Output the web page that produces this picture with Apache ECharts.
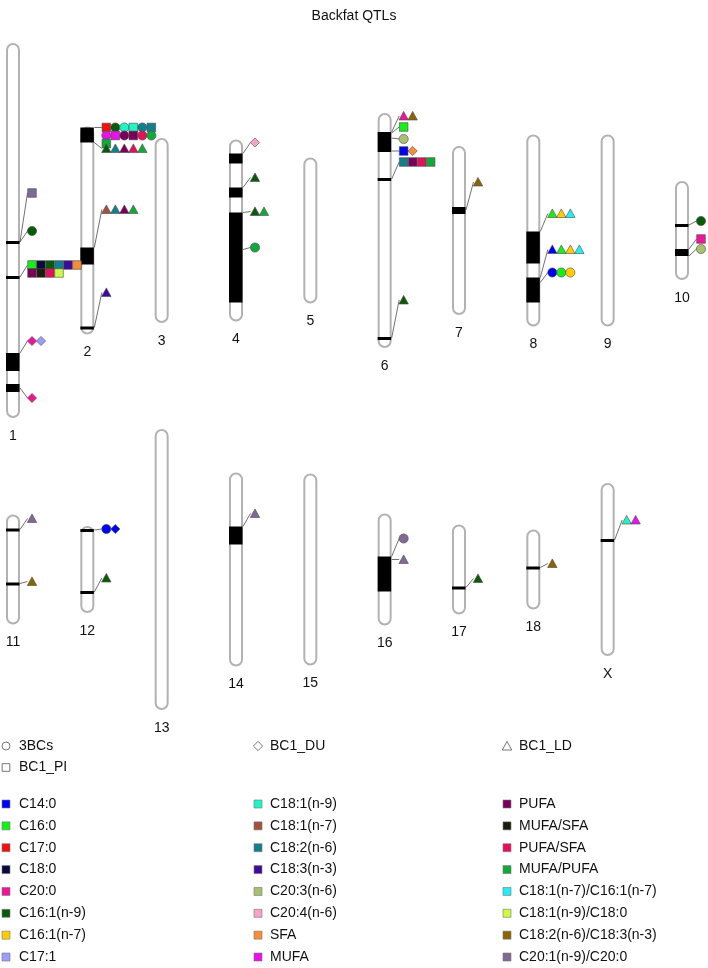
<!DOCTYPE html>
<html><head><meta charset="utf-8">
<script src="https://cdn.jsdelivr.net/npm/echarts@6/dist/echarts.min.js"></script>
<style>html,body{margin:0;padding:0;background:#fff}#chart{width:708px;height:968px}</style>
</head><body><div id="chart"></div>
<script>
// ---------- data ----------
const chromosomes = ['1','2','3','4','5','6','7','8','9','10','11','12','13','14','15','16','17','18','X'];
const chromLengths = [375, 208, 185, 182, 146, 235, 169, 192, 192, 99, 110, 87, 281, 194, 192, 112, 90, 80, 173];

const populations = ['3BCs', 'BC1_DU', 'BC1_LD', 'BC1_PI'];
const popSymbols = ['circle', 'diamond', 'triangle', 'square'];

const traits = ['C14:0','C16:0','C17:0','C18:0','C20:0','C16:1(n-9)','C16:1(n-7)','C17:1',
  'C18:1(n-9)','C18:1(n-7)','C18:2(n-6)','C18:3(n-3)','C20:3(n-6)','C20:4(n-6)','SFA','MUFA',
  'PUFA','MUFA/SFA','PUFA/SFA','MUFA/PUFA','C18:1(n-7)/C16:1(n-7)','C18:1(n-9)/C18:0','C18:2(n-6)/C18:3(n-3)','C20:1(n-9)/C20:0'];
const traitColors = ['#0000f5','#16f016','#f01010','#0a0a3c','#f0149a','#0b5a0b','#ffcc00','#9c9cff',
  '#20f5c4','#a0523d','#137e8e','#3f0a9a','#a8c070','#f7a2cb','#f98c37','#e812e8',
  '#780058','#1c1a0c','#e2115a','#12a83a','#22eef5','#ccfa44','#8a6400','#7f6a95'];

// QTL bands: [chromosome, start, end] (units from chromosome top)
const bands = [
  ['1',198,201],['1',233,236],['1',310,328],['1',341,349],
  ['2',1,16],['2',121,138],['2',200,203],
  ['4',14,24],['4',48,58],['4',73,163],
  ['6',19,39],['6',65,68],['6',224,227],
  ['7',61,68],
  ['8',97,129],['8',143,168],
  ['10',43,46],['10',68,75],
  ['11',14,17],['11',68,71],
  ['12',3,6],['12',65,68],
  ['14',54,72],
  ['16',43,78],
  ['17',62,65],
  ['18',37,40],
  ['X',56,59]
];

// QTL label groups: chromosome, anchor on chromosome, label position, [population, trait] items
const qtlChrom  = ['1','1','1','1','1','2','2','2','2','4','4','4','4','6','6','6','6','6','6','7','8','8','8','10','10','10','11','11','12','12','14','16','16','17','18','X'];
const qtlAnchor = [199,199,234,310,345, 1,16,121,201, 14,48,73,110, 19,20,25,38,66,225, 64, 97,143,148, 44,68,75, 15,69, 4,66, 54, 43,46, 63, 38, 57];
const qtlLabelAt= [150,188,222,298,355, 1,22,83,166, 3,38,72,108, 3,14,26,38,49,187, 36, 79,115,138, 40,58,68, 4,67, 3,52, 41, 25,46, 54, 34, 37];
const qtlItems = [
  [['BC1_PI','C20:1(n-9)/C20:0']],
  [['3BCs','C16:1(n-9)']],
  [['BC1_PI','C16:0'],['BC1_PI','C18:0'],['BC1_PI','C16:1(n-9)'],['BC1_PI','C18:2(n-6)'],['BC1_PI','C18:3(n-3)'],['BC1_PI','SFA'],
   ['BC1_PI','PUFA'],['BC1_PI','MUFA/SFA'],['BC1_PI','PUFA/SFA'],['BC1_PI','C18:1(n-9)/C18:0']],
  [['BC1_DU','C20:0'],['BC1_DU','C17:1']],
  [['BC1_DU','C20:0']],
  [['BC1_PI','C17:0'],['3BCs','C16:1(n-9)'],['3BCs','C18:1(n-9)'],['BC1_PI','C18:1(n-9)'],['3BCs','C18:2(n-6)'],['BC1_PI','C18:2(n-6)'],
   ['3BCs','MUFA'],['BC1_PI','MUFA'],['3BCs','PUFA'],['BC1_PI','PUFA'],['3BCs','PUFA/SFA'],['3BCs','MUFA/PUFA'],
   ['BC1_PI','MUFA/PUFA']],
  [['BC1_LD','C16:1(n-9)'],['BC1_LD','C18:2(n-6)'],['BC1_LD','PUFA'],['BC1_LD','PUFA/SFA'],['BC1_LD','MUFA/PUFA']],
  [['BC1_LD','C18:1(n-7)'],['BC1_LD','C18:2(n-6)'],['BC1_LD','PUFA'],['BC1_LD','MUFA/PUFA']],
  [['BC1_LD','C18:3(n-3)']],
  [['BC1_DU','C20:4(n-6)']],
  [['BC1_LD','C16:1(n-9)']],
  [['BC1_LD','C16:1(n-9)'],['BC1_LD','MUFA/PUFA']],
  [['3BCs','MUFA/PUFA']],
  [['BC1_LD','C20:0'],['BC1_LD','C18:2(n-6)/C18:3(n-3)']],
  [['BC1_PI','C16:0']],
  [['3BCs','C20:3(n-6)']],
  [['BC1_PI','C14:0'],['BC1_DU','SFA']],
  [['BC1_PI','C18:2(n-6)'],['BC1_PI','PUFA'],['BC1_PI','PUFA/SFA'],['BC1_PI','MUFA/PUFA']],
  [['BC1_LD','C16:1(n-9)']],
  [['BC1_LD','C18:2(n-6)/C18:3(n-3)']],
  [['BC1_LD','C16:0'],['BC1_LD','C16:1(n-7)'],['BC1_LD','C18:1(n-7)/C16:1(n-7)']],
  [['BC1_LD','C14:0'],['BC1_LD','C16:0'],['BC1_LD','C16:1(n-7)'],['BC1_LD','C18:1(n-7)/C16:1(n-7)']],
  [['3BCs','C14:0'],['3BCs','C16:0'],['3BCs','C16:1(n-7)']],
  [['3BCs','C16:1(n-9)']],
  [['BC1_PI','C20:0']],
  [['3BCs','C20:3(n-6)']],
  [['BC1_LD','C20:1(n-9)/C20:0']],
  [['BC1_LD','C18:2(n-6)/C18:3(n-3)']],
  [['3BCs','C14:0'],['BC1_DU','C14:0']],
  [['BC1_LD','C16:1(n-9)']],
  [['BC1_LD','C20:1(n-9)/C20:0']],
  [['3BCs','C20:1(n-9)/C20:0']],
  [['BC1_LD','C20:1(n-9)/C20:0']],
  [['BC1_LD','C16:1(n-9)']],
  [['BC1_LD','C18:2(n-6)/C18:3(n-3)']],
  [['BC1_LD','C18:1(n-9)'],['BC1_LD','MUFA']]
];

// ---------- rendering ----------
const FONT = "'Liberation Sans', Arial, Helvetica, sans-serif";
const PER_ROW = 6, STEP_X = 9, STEP_Y = 8;
const chromIndex = c => chromosomes.indexOf(c);
const rowOf = i => (i < 10 ? 0 : 1);
const colOf = i => (i < 10 ? i : i - 10);

function symbolShape(sym, x, y, fill) {
  const st = {fill: fill, stroke: '#4a4a4a', lineWidth: 0.6};
  if (sym === 'circle') return {type: 'circle', shape: {cx: x, cy: y, r: 4.6}, style: st};
  if (sym === 'square') return {type: 'rect', shape: {x: x - 4.3, y: y - 4.3, width: 8.6, height: 8.6}, style: st};
  if (sym === 'diamond') return {type: 'polygon', shape: {points: [[x, y - 4.6], [x + 4.6, y], [x, y + 4.6], [x - 4.6, y]]}, style: st};
  return {type: 'polygon', shape: {points: [[x - 4.7, y + 4], [x + 4.7, y + 4], [x, y - 4.6]]}, style: st};
}

function chromSeries(row) {
  const data = [];
  chromosomes.forEach((c, i) => { if (rowOf(i) === row) data.push([colOf(i), chromLengths[i], i]); });
  return {
    type: 'custom', xAxisIndex: row, yAxisIndex: row, data, silent: true, z: 1,
    renderItem(params, api) {
      const col = api.value(0), len = api.value(1), i = api.value(2);
      const t = api.coord([col, -len / 2]), b = api.coord([col, len / 2]);
      return {type: 'group', children: [
        {type: 'rect', shape: {x: t[0] - 6, y: t[1] + 1, width: 12, height: b[1] - t[1] - 2, r: 6},
         style: {fill: '#fff', stroke: '#b2b2b2', lineWidth: 2}},
        {type: 'text', x: t[0], y: b[1] + 18,
         style: {text: chromosomes[i], align: 'center', verticalAlign: 'middle', textAlign: 'center', textVerticalAlign: 'middle', font: '14px ' + FONT, fill: '#111'}}
      ]};
    }
  };
}

function bandSeries(row) {
  const data = [];
  bands.forEach(bd => {
    const i = chromIndex(bd[0]);
    if (rowOf(i) === row) data.push([colOf(i), bd[1] - chromLengths[i] / 2, bd[2] - chromLengths[i] / 2]);
  });
  return {
    type: 'custom', xAxisIndex: row, yAxisIndex: row, data, silent: true, z: 2,
    renderItem(params, api) {
      const a = api.coord([api.value(0), api.value(1)]), b = api.coord([api.value(0), api.value(2)]);
      return {type: 'rect', shape: {x: a[0] - 7, y: a[1], width: 13.5, height: Math.max(b[1] - a[1], 2.5)}, style: {fill: '#000'}};
    }
  };
}

function qtlSeries(row) {
  const data = [];
  qtlChrom.forEach((c, g) => {
    const i = chromIndex(c);
    if (rowOf(i) === row) data.push([colOf(i), qtlAnchor[g] - chromLengths[i] / 2, qtlLabelAt[g] - chromLengths[i] / 2, g]);
  });
  return {
    type: 'custom', xAxisIndex: row, yAxisIndex: row, data, silent: true, z: 3,
    renderItem(params, api) {
      const col = api.value(0), g = api.value(3);
      const a = api.coord([col, api.value(1)]), l = api.coord([col, api.value(2)]);
      const x0 = a[0] + 19;
      const children = [{type: 'line', shape: {x1: a[0] + 7, y1: a[1], x2: x0 - 4.5, y2: l[1]},
                         style: {stroke: '#333', lineWidth: 0.7}}];
      qtlItems[g].forEach((it, k) => {
        const sym = popSymbols[populations.indexOf(it[0])];
        const col2 = traitColors[traits.indexOf(it[1])];
        children.push(symbolShape(sym, x0 + STEP_X * (k % PER_ROW), l[1] + STEP_Y * Math.floor(k / PER_ROW), col2));
      });
      return {type: 'group', children};
    }
  };
}

// legend graphics
const legendGraphics = [];
const colX = [6, 258, 507], textX = [19, 270, 519];
populations.forEach((p, k) => {
  const c = k % 3, r = Math.floor(k / 3);
  const y = 746 + r * 21.5;
  const sh = symbolShape(popSymbols[k], colX[c], y, 'none');
  sh.style = {fill: 'none', stroke: '#555', lineWidth: 0.8};
  if (popSymbols[k] === 'square') sh.shape = {x: colX[c] - 3.8, y: y - 3.8, width: 7.6, height: 7.6};
  if (popSymbols[k] === 'circle') sh.shape.r = 4;
  legendGraphics.push(sh);
  legendGraphics.push({type: 'text', x: textX[c], y: y,
    style: {text: p, font: '14px ' + FONT, fill: '#111', verticalAlign: 'middle', textVerticalAlign: 'middle'}});
});
traits.forEach((t, k) => {
  const c = Math.floor(k / 8), r = k % 8;
  const y = 804 + r * 21.86;
  legendGraphics.push({type: 'rect', shape: {x: colX[c] - 4, y: y - 4, width: 8, height: 8},
    style: {fill: traitColors[k], stroke: '#777', lineWidth: 0.6}});
  legendGraphics.push({type: 'text', x: textX[c], y: y,
    style: {text: t, font: '14px ' + FONT, fill: '#111', verticalAlign: 'middle', textVerticalAlign: 'middle'}});
});

const chart = echarts.init(document.getElementById('chart'), null, {renderer: 'canvas'});
chart.setOption({
  animation: false,
  backgroundColor: '#fff',
  title: {text: 'Backfat QTLs', left: 'center', top: 4,
          textStyle: {fontSize: 14, fontWeight: 'normal', color: '#111', fontFamily: FONT}},
  grid: [
    {left: 0, right: 0, top: 15.5, height: 430},
    {left: 0, right: 0, top: 419.5, height: 300}
  ],
  xAxis: [
    {type: 'value', gridIndex: 0, min: -0.175, max: 9.35, show: false},
    {type: 'value', gridIndex: 1, min: -0.175, max: 9.35, show: false}
  ],
  yAxis: [
    {type: 'value', gridIndex: 0, min: -215, max: 215, inverse: true, show: false},
    {type: 'value', gridIndex: 1, min: -150, max: 150, inverse: true, show: false}
  ],
  graphic: legendGraphics,
  series: [chromSeries(0), chromSeries(1), bandSeries(0), bandSeries(1), qtlSeries(0), qtlSeries(1)]
});
</script></body></html>
